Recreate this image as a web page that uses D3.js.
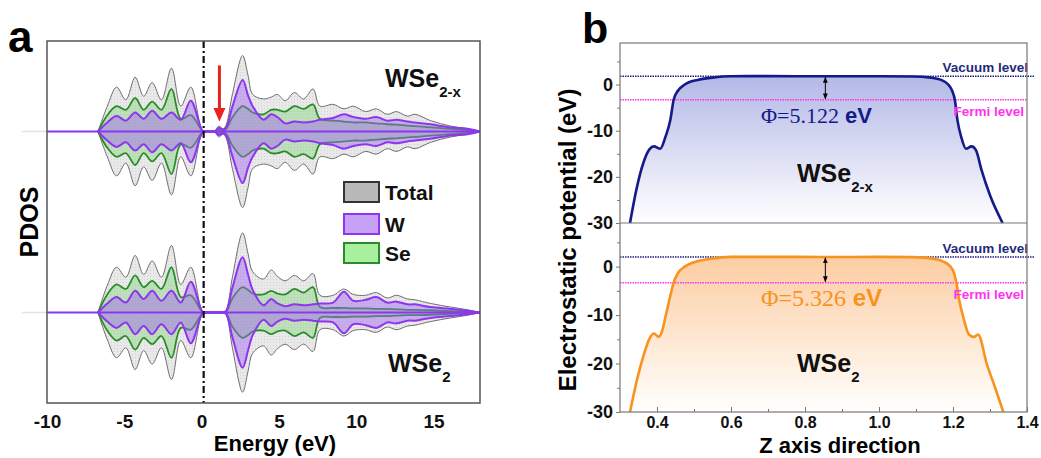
<!DOCTYPE html>
<html>
<head>
<meta charset="utf-8">
<script src="https://d3js.org/d3.v7.min.js"></script>
<style>
body{margin:0;background:#fff;}
text{font-family:"Liberation Sans",Arial,sans-serif;font-weight:bold;}
.serif{font-family:"Liberation Serif","Times New Roman",serif;font-weight:normal;}
</style>
</head>
<body>
<svg id="fig" width="1041" height="458"></svg>
<script>
// ---- panel a: PDOS (mirrored, arbitrary units) ----
var eVal = [-6.7, -6.1, -5.5, -4.9, -4.3, -3.75, -3.2, -2.6, -1.95, -1.35, -0.7, 0.1]
var eCon = [0.5, 0.85, 1.1, 1.4, 1.6, 2.0, 2.65, 3.0, 3.3, 4.0, 4.5, 4.9, 5.4, 6.0, 6.6,
            7.2, 7.65, 8.5, 9.2, 9.8, 10.6, 11.3, 12.0, 12.6, 13.3, 13.8, 14.8, 16.1, 17.2, 18.0]
var energy = eVal.concat(eCon)

// WSe2-x (top)
var totalDef = [0, 2.8, 4.9, 3.5, 6.0, 3.9, 5.4, 3.5, 7.0, 2.8, 4.9, 0,
                0, 0, 0.6, 0.3, 0.8, 4.2, 8.4, 6.2, 4.1, 3.6, 3.8, 4.1, 3.4, 4.3, 3.6,
                4.7, 2.8, 3.0, 2.5, 2.8, 2.2, 2.5, 1.9, 2.2, 1.7, 1.9, 1.2, 0.6, 0.3, 0]
var wDef     = [0, 1.0, 1.7, 1.2, 2.1, 1.4, 2.3, 1.4, 2.1, 1.3, 3.4, 0,
                0, 0, 0.4, 0.2, 0.5, 2.8, 5.7, 4.0, 2.8, 1.3, 1.9, 1.6, 0.9, 1.1, 1.0,
                1.1, 1.3, 1.5, 1.9, 1.6, 1.4, 1.6, 1.2, 1.3, 1.1, 1.0, 0.8, 0.45, 0.3, 0]
var seDef    = [0, 1.8, 2.8, 2.4, 3.7, 2.4, 3.3, 2.4, 4.7, 1.4, 1.8, 0,
                0, 0, 0.2, 0.1, 0.3, 1.6, 2.8, 2.5, 2.1, 1.9, 2.4, 2.4, 2.2, 2.8, 2.5,
                3.0, 1.4, 1.2, 1.1, 1.0, 1.0, 0.9, 0.8, 0.75, 0.65, 0.6, 0.45, 0.3, 0.15, 0]
// WSe2 (bottom)
var totalPure = [0, 3.0, 5.0, 3.9, 6.3, 4.2, 5.7, 3.9, 7.4, 3.1, 5.0, 0,
                 0, 0, 0, 0, 0.3, 4.0, 8.8, 6.5, 4.5, 3.7, 4.7, 4.0, 3.5, 4.1, 3.5,
                 4.3, 1.9, 1.9, 2.6, 2.0, 1.9, 2.2, 1.6, 1.9, 1.5, 1.4, 1.0, 0.6, 0.3, 0]
var wPure     = [0, 1.0, 1.7, 1.1, 2.4, 1.5, 2.4, 1.3, 2.4, 1.1, 3.4, 0,
                 0, 0, 0, 0, 0.2, 2.8, 6.1, 4.2, 2.5, 0.8, 1.5, 1.0, 0.7, 0.9, 0.8,
                 0.9, 1.0, 1.1, 2.3, 1.3, 1.4, 1.7, 1.1, 1.2, 0.9, 0.9, 0.6, 0.4, 0.2, 0]
var sePure    = [0, 2.0, 3.1, 2.6, 4.1, 2.8, 3.5, 2.6, 5.0, 1.7, 1.9, 0,
                 0, 0, 0, 0, 0.1, 1.6, 2.8, 2.5, 2.1, 2.0, 2.4, 2.1, 2.0, 2.6, 2.2,
                 2.8, 0.6, 0.5, 0.5, 0.45, 0.45, 0.4, 0.4, 0.35, 0.3, 0.3, 0.25, 0.15, 0.1, 0]
var energyTicks = [-10, -5, 0, 5, 10, 15]
var fermiA = 0.13
var legendNames = ["Total", "W", "Se"]

// ---- panel b: electrostatic potential ----
var zDef = [0.327, 0.345, 0.363, 0.38, 0.392, 0.409, 0.423, 0.436, 0.445, 0.456, 0.475, 0.51, 0.55, 0.60, 0.70, 0.85,
            1.0, 1.09, 1.14, 1.168, 1.187, 1.198, 1.205, 1.212, 1.222, 1.235, 1.25, 1.262, 1.277, 1.30, 1.334]
var vDef = [-30, -22.5, -17, -14, -13.4, -13.9, -11.3, -7.7, -3.3, -1.4, 0, 1.0, 1.5, 1.8, 1.82, 1.78,
            1.8, 1.75, 1.5, 1.0, 0, -1.4, -3.3, -7.7, -11.3, -13.9, -13.4, -14.2, -18.5, -24, -30]
var zPure = [0.327, 0.347, 0.365, 0.38, 0.392, 0.404, 0.413, 0.424, 0.436, 0.445, 0.456, 0.475, 0.51, 0.55, 0.60, 0.70,
             0.85, 1.0, 1.09, 1.15, 1.175, 1.193, 1.203, 1.209, 1.217, 1.228, 1.243, 1.256, 1.268, 1.291, 1.314, 1.336]
var vPure = [-30, -23, -18, -14.8, -13.8, -14.5, -13.5, -10, -6, -3.3, -1.4, 0, 1.1, 1.7, 2.0, 2.02,
             1.98, 2.0, 1.95, 1.6, 1.0, 0, -1.4, -3.3, -7, -10.5, -14, -14.5, -14, -20, -25, -30]
var vacuumDef = 1.8, phiDef = 5.122
var vacuumPure = 2.0, phiPure = 5.326
var zTicks = [0.4, 0.6, 0.8, 1.0, 1.2, 1.4]
var zMinor = [0.5, 0.7, 0.9, 1.1, 1.3]
var potTicks = [0, -10, -20, -30]
var potMinor = [5, -5, -15, -25]

var cTot = "#6e6e6e", cW = "#8e35ef", cSe = "#2a8c2a"
var navy = "#151a8a", orange = "#f7931e"

var svg = d3.select("#fig")
var defs = svg.append("defs")

var pat = defs.append("pattern").attr("id", "dots")
    .attr("width", 3).attr("height", 3).attr("patternUnits", "userSpaceOnUse")
pat.append("rect").attr("width", 3).attr("height", 3).attr("fill", "#e9e9e9")
pat.append("rect").attr("width", 1).attr("height", 1).attr("fill", "#d2d2d2")

defs.append("marker").attr("id", "ah")
    .attr("viewBox", "0 0 10 10").attr("refX", 9).attr("refY", 5)
    .attr("markerWidth", 6).attr("markerHeight", 6)
    .attr("orient", "auto-start-reverse")
  .append("path").attr("d", "M0,1L10,5L0,9z").attr("fill", "#000")

var hyphen = function(d){ return String(d) }

// ================= panel a =================
var xA = d3.scaleLinear().domain([-10, 18]).range([47, 480])
var yTopA = d3.scaleLinear().domain([-10, 10]).range([222, 41])
var yBotA = d3.scaleLinear().domain([-10, 10]).range([403, 222])

defs.append("clipPath").attr("id", "clipA")
  .append("rect").attr("x", 47).attr("y", 41).attr("width", 433).attr("height", 362)

function drawDos(y, tot, w, se) {
    var g = svg.append("g").attr("clip-path", "url(#clipA)")
    var curve = d3.curveCatmullRom.alpha(0.5)
    var area = d3.area()
        .x(function(d, i){ return xA(energy[i]) })
        .y0(function(d){ return y(-d) })
        .y1(function(d){ return y(d) })
        .curve(curve)
    var up = d3.line().x(function(d, i){ return xA(energy[i]) })
        .y(function(d){ return y(d) }).curve(curve)
    var dn = d3.line().x(function(d, i){ return xA(energy[i]) })
        .y(function(d){ return y(-d) }).curve(curve)

    var layers = [
        {v: tot, fill: "url(#dots)", stroke: cTot, sw: 1},
        {v: se, fill: "rgba(110,210,100,0.35)", stroke: cSe, sw: 1.8},
        {v: w, fill: "rgba(160,100,240,0.45)", stroke: cW, sw: 2}
    ]
    layers.forEach(function(l){
        g.append("path").attr("d", area(l.v)).attr("fill", l.fill)
        g.append("path").attr("d", up(l.v)).attr("fill", "none").attr("stroke", l.stroke).attr("stroke-width", l.sw)
        g.append("path").attr("d", dn(l.v)).attr("fill", "none").attr("stroke", l.stroke).attr("stroke-width", l.sw)
    })
    svg.append("line").attr("x1", 22).attr("x2", 47).attr("y1", y(0)).attr("y2", y(0))
        .attr("stroke", "#e2e2e2").attr("stroke-width", 1.5)
    svg.append("line").attr("x1", 47).attr("x2", 480).attr("y1", y(0)).attr("y2", y(0))
        .attr("stroke", cW).attr("stroke-width", 2)
}
drawDos(yTopA, totalDef, wDef, seDef)
drawDos(yBotA, totalPure, wPure, sePure)

// Fermi level dash-dot
svg.append("line").attr("x1", xA(fermiA)).attr("x2", xA(fermiA)).attr("y1", 41).attr("y2", 403)
    .attr("stroke", "#111").attr("stroke-width", 2.2).attr("stroke-dasharray", "7,3,2,3")

// frame
svg.append("rect").attr("x", 47).attr("y", 41).attr("width", 433).attr("height", 362)
    .attr("fill", "none").attr("stroke", "#555").attr("stroke-width", 1.5)

// x axis
var axA = svg.append("g").attr("transform", "translate(0,403)")
    .call(d3.axisBottom(xA).tickValues(energyTicks).tickSize(0).tickPadding(12).tickFormat(hyphen))
axA.select(".domain").remove()
axA.selectAll("text").attr("font-size", 19).attr("fill", "#111")
    .attr("font-family", "Liberation Sans, Arial, sans-serif").attr("font-weight", "bold")

svg.append("text").attr("x", 275).attr("y", 451).attr("text-anchor", "middle")
    .attr("font-size", 22).text("Energy (eV)")
svg.append("text").attr("transform", "translate(38,222) rotate(-90)").attr("text-anchor", "middle")
    .attr("font-size", 25).text("PDOS")
svg.append("text").attr("x", 8).attr("y", 52).attr("font-size", 44).text("a")

// red arrow on the defect state
var ax = xA(1.15)
svg.append("line").attr("x1", ax).attr("x2", ax).attr("y1", yTopA(7.3)).attr("y2", yTopA(2.4))
    .attr("stroke", "#e8231f").attr("stroke-width", 3)
svg.append("path")
    .attr("d", "M" + (ax - 6) + "," + yTopA(2.6) + "L" + (ax + 6) + "," + yTopA(2.6) + "L" + ax + "," + yTopA(1.1) + "Z")
    .attr("fill", "#e8231f")

// sample labels
function formula(x, y, sub, size) {
    var t = svg.append("text").attr("x", x).attr("y", y).attr("font-size", size).attr("fill", "#111")
    t.append("tspan").text("WSe")
    t.append("tspan").attr("font-size", size * 0.6).attr("dy", size * 0.38).text(sub)
}
formula(385, 87, "2-x", 25)
formula(388, 372, "2", 25)

// legend
var legFill = ["#b9b9b9", "#c8a0f8", "#a6f0a0"]
var legStroke = ["#333", cW, cSe]
var legY = [182, 214, 243]
legendNames.forEach(function(n, i){
    svg.append("rect").attr("x", 344).attr("y", legY[i]).attr("width", 35).attr("height", 20)
        .attr("fill", legFill[i]).attr("stroke", legStroke[i]).attr("stroke-width", 2)
    svg.append("text").attr("x", 385).attr("y", legY[i] + 17.5).attr("font-size", 21)
        .attr("fill", "#111").text(n)
})

// ================= panel b =================
var xB = d3.scaleLinear().domain([0.3, 1.4]).range([620, 1027])
var yTopB = d3.scaleLinear().domain([-30, 9]).range([223, 43])
var yBotB = d3.scaleLinear().domain([-30, 9]).range([412, 223])

function gradient(id, y, c) {
    var gr = defs.append("linearGradient").attr("id", id)
        .attr("gradientUnits", "userSpaceOnUse")
        .attr("x1", 0).attr("x2", 0).attr("y1", y(2)).attr("y2", y(-30))
    gr.append("stop").attr("offset", 0).attr("stop-color", c)
    gr.append("stop").attr("offset", 1).attr("stop-color", "#ffffff")
}
gradient("gBlue", yTopB, "#b3b8e6")
gradient("gOrange", yBotB, "#fccda2")

function drawPot(y, z, v, color, grad, vac, phi, label, sub, phiSize) {
    var area = d3.area().x(function(d, i){ return xB(z[i]) })
        .y0(y(-30)).y1(function(d){ return y(d) }).curve(d3.curveMonotoneX)
    var line = d3.line().x(function(d, i){ return xB(z[i]) })
        .y(function(d){ return y(d) }).curve(d3.curveMonotoneX)
    svg.append("path").attr("d", area(v)).attr("fill", "url(#" + grad + ")")

    var fermi = vac - phi
    svg.append("line").attr("x1", 620).attr("x2", 1034).attr("y1", y(vac)).attr("y2", y(vac))
        .attr("stroke", "#1c1c7c").attr("stroke-width", 1.5).attr("stroke-dasharray", "1.5,1")
    svg.append("line").attr("x1", 620).attr("x2", 1027).attr("y1", y(fermi)).attr("y2", y(fermi))
        .attr("stroke", "#ff33ee").attr("stroke-width", 1.5).attr("stroke-dasharray", "1.5,1")

    svg.append("path").attr("d", line(v)).attr("fill", "none")
        .attr("stroke", color).attr("stroke-width", 2.6)

    var xa = xB(0.855)
    svg.append("line").attr("x1", xa).attr("x2", xa).attr("y1", y(vac) + 1).attr("y2", y(fermi) - 1)
        .attr("stroke", "#000").attr("stroke-width", 1)
        .attr("marker-start", "url(#ah)").attr("marker-end", "url(#ah)")

    svg.append("text").attr("x", 1028).attr("y", y(vac) - 4).attr("text-anchor", "end")
        .attr("font-size", 13.5).attr("fill", "#1f2a7a").text("Vacuum level")
    svg.append("text").attr("x", 1024).attr("y", y(fermi) + 16).attr("text-anchor", "end")
        .attr("font-size", 13.5).attr("fill", "#ff33ee").text("Fermi level")

    var pt = svg.append("text").attr("x", 761).attr("y", y(fermi) + 23).attr("font-size", phiSize).attr("fill", color)
    pt.append("tspan").attr("class", "serif").text("\u03A6=" + d3.format(".3f")(phi))
    pt.append("tspan").text(" eV")

    var t = svg.append("text").attr("x", 797).attr("y", label).attr("font-size", 25).attr("fill", "#111")
    t.append("tspan").text("WSe")
    t.append("tspan").attr("font-size", 15).attr("dy", 9.5).text(sub)
}
drawPot(yTopB, zDef, vDef, navy, "gBlue", vacuumDef, phiDef, 182, "2-x", 22)
drawPot(yBotB, zPure, vPure, orange, "gOrange", vacuumPure, phiPure, 372, "2", 24)

// frame + divider
svg.append("rect").attr("x", 620).attr("y", 43).attr("width", 407).attr("height", 369)
    .attr("fill", "none").attr("stroke", "#777").attr("stroke-width", 1.2)
svg.append("line").attr("x1", 620).attr("x2", 1027).attr("y1", 223).attr("y2", 223)
    .attr("stroke", "#777").attr("stroke-width", 1.2)

function styleAxis(g, size) {
    g.select(".domain").remove()
    g.selectAll("line").attr("stroke", "#777")
    g.selectAll("text").attr("font-size", size).attr("fill", "#111")
        .attr("font-family", "Liberation Sans, Arial, sans-serif").attr("font-weight", "bold")
}
[yTopB, yBotB].forEach(function(y){
    var g = svg.append("g").attr("transform", "translate(620,0)")
        .call(d3.axisLeft(y).tickValues(potTicks).tickSize(4).tickPadding(3).tickFormat(hyphen))
    styleAxis(g, 18)
    var m = svg.append("g").attr("transform", "translate(620,0)")
        .call(d3.axisLeft(y).tickValues(potMinor).tickSize(3).tickFormat(""))
    styleAxis(m, 18)
})
var gx = svg.append("g").attr("transform", "translate(0,412)")
    .call(d3.axisBottom(xB).tickValues(zTicks).tickSize(-5).tickPadding(5).tickFormat(d3.format(".1f")))
styleAxis(gx, 16)
var gxm = svg.append("g").attr("transform", "translate(0,412)")
    .call(d3.axisBottom(xB).tickValues(zMinor).tickSize(-3).tickFormat(""))
styleAxis(gxm, 16)

svg.append("text").attr("x", 840).attr("y", 453).attr("text-anchor", "middle")
    .attr("font-size", 22).text("Z axis direction")
svg.append("text").attr("transform", "translate(576,240) rotate(-90)").attr("text-anchor", "middle")
    .attr("font-size", 24).text("Electrostatic potential (eV)")
svg.append("text").attr("x", 582).attr("y", 43).attr("font-size", 43).text("b")
</script>
</body>
</html>
